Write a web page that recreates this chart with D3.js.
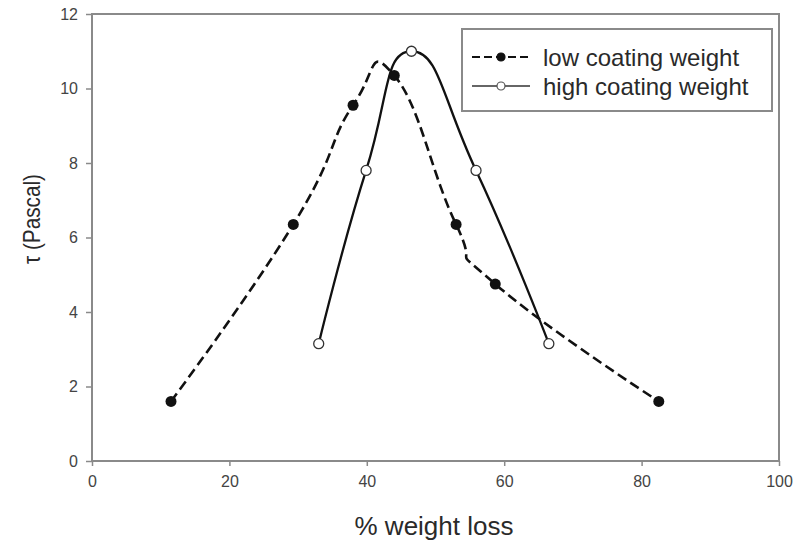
<!DOCTYPE html>
<html>
<head>
<meta charset="utf-8">
<script src="https://cdn.jsdelivr.net/npm/d3@7"></script>
<style>
  body { margin: 0; background: #fff; }
  svg text { font-family: "Liberation Sans", Arial, sans-serif; }
</style>
</head>
<body>
<svg id="chart"></svg>
<script>
const lowX = [11.5, 29.3, 38.0, 44.0, 53.0, 58.7, 82.5];
const lowY = [1.6, 6.35, 9.55, 10.35, 6.35, 4.75, 1.6];
const highX = [33.0, 39.9, 46.5, 55.9, 66.5];
const highY = [3.15, 7.8, 11.0, 7.8, 3.15];
const xTicks = [0, 20, 40, 60, 80, 100];
const yTicks = [0, 2, 4, 6, 8, 10, 12];
const seriesNames = ["low coating weight", "high coating weight"];

const W = 793, H = 544;
const margin = { top: 14, right: 14, bottom: 83, left: 92 };
const w = W - margin.left - margin.right;
const h = H - margin.top - margin.bottom;

const svg = d3.select("#chart").attr("width", W).attr("height", H);
const g = svg.append("g").attr("transform", `translate(${margin.left},${margin.top})`);

const x = d3.scaleLinear().domain([0, 100]).range([0, w]);
const y = d3.scaleLinear().domain([0, 12]).range([h, 0]);

const axisCol = "#8a8a8a";

// Frame
g.append("rect").attr("width", w).attr("height", h)
  .attr("fill", "none").attr("stroke", axisCol).attr("stroke-width", 2);

// Axes
const xa = g.append("g").attr("transform", `translate(0,${h})`)
  .call(d3.axisBottom(x).tickValues(xTicks).tickSize(5).tickPadding(10));
const ya = g.append("g")
  .call(d3.axisLeft(y).tickValues(yTicks).tickSize(6).tickPadding(8));
[xa, ya].forEach(a => {
  a.select(".domain").remove();
  a.selectAll("line").attr("stroke", axisCol).attr("stroke-width", 1.5);
  a.selectAll("text").style("font-size", "16px").attr("fill", "#444");
});

// Axis titles
svg.append("text").attr("x", 434).attr("y", 535)
  .attr("text-anchor", "middle").style("font-size", "26px").attr("fill", "#2a2a2a")
  .text("% weight loss");
svg.append("text").attr("transform", "translate(40,219) rotate(-90)")
  .attr("text-anchor", "middle").style("font-size", "24px").attr("fill", "#2a2a2a")
  .attr("textLength", 90).attr("lengthAdjust", "spacingAndGlyphs")
  .text("τ (Pascal)");

const low = lowX.map((v, i) => [v, lowY[i]]);
const high = highX.map((v, i) => [v, highY[i]]);
const line = d3.line().x(d => x(d[0])).y(d => y(d[1])).curve(d3.curveCardinal.tension(-0.5));

g.append("path").datum(low).attr("d", line).attr("fill", "none")
  .attr("stroke", "#111").attr("stroke-width", 2.6).attr("stroke-dasharray", "10,5");
g.append("path").datum(high).attr("d", line).attr("fill", "none")
  .attr("stroke", "#111").attr("stroke-width", 2.3);

g.selectAll("circle.low").data(low).join("circle").attr("class", "low")
  .attr("cx", d => x(d[0])).attr("cy", d => y(d[1])).attr("r", 5.5).attr("fill", "#111");
g.selectAll("circle.high").data(high).join("circle").attr("class", "high")
  .attr("cx", d => x(d[0])).attr("cy", d => y(d[1])).attr("r", 5)
  .attr("fill", "#fff").attr("stroke", "#333").attr("stroke-width", 1.3);

// Legend
const lg = svg.append("g").attr("transform", "translate(462,29)");
lg.append("rect").attr("width", 310).attr("height", 82)
  .attr("fill", "#fff").attr("stroke", axisCol).attr("stroke-width", 2);
seriesNames.forEach((name, i) => {
  const ly = 28 + i * 29;
  const row = lg.append("g");
  row.append("line").attr("x1", 10).attr("x2", 68).attr("y1", ly).attr("y2", ly)
    .attr("stroke", i === 0 ? "#111" : "#666").attr("stroke-width", 2.2)
    .attr("stroke-dasharray", i === 0 ? "8,4" : null);
  row.append("circle").attr("cx", 39).attr("cy", ly).attr("r", 4)
    .attr("fill", i === 0 ? "#111" : "#fff").attr("stroke", i === 0 ? "#111" : "#555")
    .attr("stroke-width", 1.2);
  row.append("text").attr("x", 81).attr("y", ly + 9).style("font-size", "24px")
    .attr("fill", "#2a2a2a").text(name);
});
</script>
</body>
</html>
